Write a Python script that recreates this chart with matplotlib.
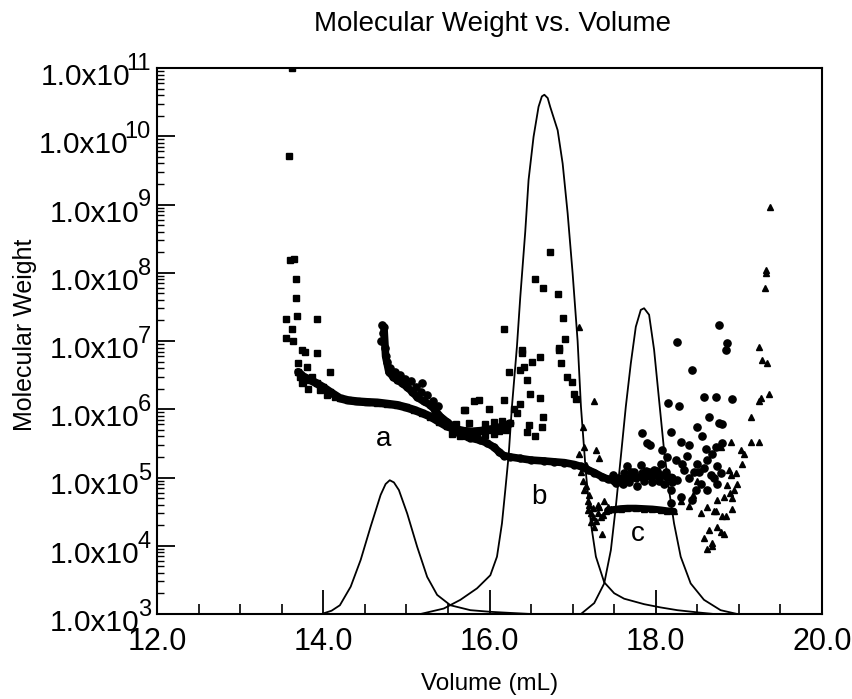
import numpy as np
import matplotlib
matplotlib.use('Agg')
import matplotlib.pyplot as plt
from matplotlib.ticker import FixedLocator, LogLocator, NullFormatter, MultipleLocator
from matplotlib.transforms import blended_transform_factory, offset_copy

plt.rcParams['font.family'] = ['Liberation Sans', 'DejaVu Sans']

# ---------------- data ----------------
x_ticks = [12.0, 14.0, 16.0, 18.0, 20.0]
x_tick_labels = ['12.0', '14.0', '16.0', '18.0', '20.0']
y_ticks = [1e3, 1e4, 1e5, 1e6, 1e7, 1e8, 1e9, 1e10, 1e11]
y_tick_base = '1.0x10'
y_tick_exps = ['3', '4', '5', '6', '7', '8', '9', '10', '11']

# chromatogram traces (relative detector signal, 0..1 of plot height)
peak_a_x = [13.98, 14.10, 14.20, 14.33, 14.45, 14.57, 14.69, 14.75, 14.80, 14.85,
            14.91, 15.01, 15.13, 15.25, 15.37, 15.53, 15.77, 16.01, 16.25, 16.50]
peak_a_h = [0.0, 0.006, 0.016, 0.05, 0.099, 0.16, 0.218, 0.238, 0.245, 0.241,
            0.227, 0.184, 0.123, 0.068, 0.035, 0.016, 0.007, 0.004, 0.002, 0.0]

peak_b_x = [15.17, 15.45, 15.65, 15.85, 16.01, 16.09, 16.15, 16.19, 16.23, 16.27,
            16.33, 16.37, 16.43, 16.47, 16.53, 16.59, 16.63, 16.66, 16.70, 16.73,
            16.82, 16.88, 16.94, 17.00, 17.06, 17.10, 17.16, 17.22, 17.28, 17.38,
            17.50, 17.62, 17.86, 18.06, 18.26, 18.50, 18.70]
peak_b_h = [0.0, 0.01, 0.026, 0.047, 0.071, 0.105, 0.166, 0.227, 0.29, 0.38,
            0.49, 0.58, 0.70, 0.795, 0.874, 0.929, 0.948, 0.951, 0.945, 0.929,
            0.886, 0.825, 0.734, 0.624, 0.50, 0.38, 0.258, 0.166, 0.105, 0.058,
            0.038, 0.028, 0.018, 0.012, 0.007, 0.003, 0.0]

peak_c_x = [17.10, 17.26, 17.38, 17.46, 17.52, 17.58, 17.64, 17.70, 17.76, 17.82,
            17.86, 17.92, 17.98, 18.04, 18.10, 18.16, 18.22, 18.30, 18.42, 18.58,
            18.78, 18.98]
peak_c_h = [0.0, 0.02, 0.056, 0.117, 0.197, 0.288, 0.38, 0.459, 0.526, 0.557,
            0.56, 0.548, 0.484, 0.392, 0.30, 0.227, 0.166, 0.105, 0.056, 0.026,
            0.007, 0.0]

# sample a (squares): dense band + scattered points
band_a_x = [13.70, 13.76, 13.84, 13.92, 14.00, 14.08, 14.20, 14.30, 14.41, 14.53,
            14.65, 14.77, 14.89, 14.99, 15.09, 15.19, 15.29, 15.39, 15.49, 15.59,
            15.69, 15.79, 15.89, 15.99, 16.09, 16.17, 16.25]
band_a_y = [3.5e6, 3.0e6, 2.7e6, 2.4e6, 2.1e6, 1.8e6, 1.45e6, 1.35e6, 1.3e6, 1.27e6,
            1.25e6, 1.2e6, 1.15e6, 1.07e6, 9.8e5, 8.8e5, 7.8e5, 6.6e5, 5.6e5, 5.1e5,
            4.8e5, 4.7e5, 4.8e5, 5.0e5, 5.3e5, 5.6e5, 6.2e5]
sq_x = [13.63, 13.59, 13.60, 13.65, 13.67, 13.67, 13.55, 13.68, 13.63, 13.93,
        13.55, 13.64, 13.74, 13.78, 13.92, 13.70, 13.80, 14.08, 13.72, 13.76,
        13.86, 15.69, 15.81, 15.71, 15.87, 15.99, 16.17, 16.23, 16.39, 16.37,
        16.42, 16.45, 16.51, 16.61, 16.61, 16.64, 16.47, 16.45, 16.55, 16.63,
        16.49, 16.84, 16.86, 16.93, 16.99, 17.02, 17.04, 16.73, 16.55, 16.64,
        16.83, 16.88, 16.17, 16.91, 16.84, 16.39, 16.33, 16.29, 16.37, 15.60,
        15.75, 15.95, 16.05, 16.15, 13.74, 13.82, 13.96, 14.04, 14.14, 15.55,
        15.65, 15.75, 15.85, 15.95, 16.05, 16.12, 16.20]
sq_y = [1e11, 5.1e9, 1.55e8, 1.6e8, 8e7, 4.3e7, 2.1e7, 2.3e7, 1.5e7, 2.1e7,
        1.1e7, 1.0e7, 7.4e6, 7.0e6, 6.6e6, 4.7e6, 4.2e6, 3.5e6, 3.0e6, 2.5e6,
        3.0e6, 9.8e5, 1.3e6, 9.8e5, 1.38e6, 1.0e6, 1.38e6, 3.5e6, 6.6e6, 3.8e6,
        4.2e6, 2.7e6, 5.0e6, 5.9e6, 1.45e6, 7.8e5, 5.9e5, 4.7e5, 4.0e5, 5.5e5,
        1.7e6, 7.4e6, 4.7e6, 3.0e6, 2.5e6, 1.7e6, 1.4e6, 2e8, 8e7, 6e7,
        4.9e7, 2.2e7, 1.5e7, 1.07e7, 7.8e6, 7.4e6, 8.7e5, 1.0e6, 1.2e6, 6.0e5,
        6.2e5, 6.0e5, 6.5e5, 6.8e5, 2.4e6, 2.0e6, 1.9e6, 1.6e6, 1.5e6, 4.4e5,
        4.0e5, 3.9e5, 4.0e5, 4.2e5, 4.4e5, 4.8e5, 5.0e5]

# sample b (circles)
band_b_x = [14.73, 14.75, 14.79, 14.84, 14.89, 14.95, 15.01, 15.07, 15.13, 15.21,
            15.29, 15.35, 15.41, 15.49, 15.57, 15.65, 15.77, 15.89, 15.97, 16.05,
            16.11, 16.17, 16.25, 16.37, 16.50, 16.65, 16.77, 16.90, 17.02, 17.10,
            17.18, 17.26, 17.35, 17.42, 17.50, 17.58, 17.66, 17.76, 17.86, 17.96,
            18.06, 18.14, 18.20]
band_b_y = [1.6e7, 6e6, 3.5e6, 3.0e6, 2.7e6, 2.4e6, 2.1e6, 1.8e6, 1.5e6, 1.3e6,
            1.15e6, 9.5e5, 7.8e5, 6.5e5, 5.5e5, 4.2e5, 3.8e5, 3.5e5, 3.2e5, 2.8e5,
            2.4e5, 2.1e5, 2.0e5, 1.9e5, 1.8e5, 1.75e5, 1.7e5, 1.65e5, 1.55e5, 1.45e5,
            1.3e5, 1.18e5, 1.03e5, 9.5e4, 9.0e4, 9.2e4, 9.5e4, 1.0e5, 1.02e5, 1.05e5,
            1.08e5, 1.02e5, 1.0e5]
ci_x = [14.71, 14.72, 14.70, 14.74, 14.77, 14.80, 14.86, 14.92, 14.98, 15.05,
        15.12, 15.18, 15.25, 15.32, 15.38, 15.19,
        18.26, 18.76, 18.86, 18.84, 18.44, 18.58, 18.72, 18.92, 18.15, 18.28,
        17.83, 17.90, 17.93, 18.18, 18.30, 18.40, 18.50, 18.64, 18.76, 18.80,
        18.56, 18.72, 18.80, 18.08, 18.14, 18.24, 18.38, 18.50, 18.62, 18.26,
        18.40, 18.54, 18.48, 18.62, 18.74, 18.78, 18.30, 18.18, 18.44, 18.74,
        18.18, 17.66, 17.82, 17.98, 18.06, 17.78, 17.60, 17.95, 18.10, 17.70,
        17.88, 18.00, 17.55, 18.34, 18.46, 18.58, 18.68, 18.70,
        17.48, 17.62, 17.74, 17.84, 17.92, 18.02, 18.12, 17.52, 17.68, 17.86,
        18.04, 18.20, 18.32, 18.52, 18.66, 18.60]
ci_y = [1.7e7, 1.3e7, 1.0e7, 8e6, 5e6, 4e6, 3.5e6, 3.2e6, 2.8e6, 2.6e6,
        2.1e6, 1.8e6, 1.6e6, 1.3e6, 1.1e6, 2.4e6,
        9.8e6, 1.7e7, 9.3e6, 7.4e6, 3.8e6, 1.5e6, 1.5e6, 1.4e6, 1.23e6, 1.12e6,
        4.5e5, 3.2e5, 3.0e5, 4.6e5, 3.3e5, 3.0e5, 5.5e5, 7.8e5, 6.2e5, 6.0e5,
        4.0e5, 2.8e5, 3.2e5, 2.5e5, 2.0e5, 1.8e5, 2.1e5, 1.6e5, 1.8e5, 9.1e4,
        1.0e5, 8.1e4, 6.6e4, 6.6e4, 1.45e5, 1.15e5, 5.2e4, 6.6e4, 4.7e4, 8.1e4,
        4.2e4, 1.45e5, 1.5e5, 1.3e5, 1.6e5, 7.4e4, 8e4, 8.5e4, 8e4, 1.2e5,
        1.25e5, 1.1e5, 1.0e5, 1.3e5, 1.2e5, 1.4e5, 2.2e5, 1.0e5,
        1.1e5, 1.15e5, 1.2e5, 1.18e5, 1.2e5, 1.25e5, 1.2e5, 8.2e4, 8.5e4, 8.8e4,
        9.0e4, 8.5e4, 1.6e5, 1.2e5, 1.1e5, 2.6e5]

# sample c (triangles)
band_c_x = [17.42, 17.50, 17.58, 17.66, 17.76, 17.86, 17.96, 18.06, 18.14, 18.22]
band_c_y = [3.3e4, 3.4e4, 3.5e4, 3.55e4, 3.55e4, 3.5e4, 3.45e4, 3.35e4, 3.25e4, 3.2e4]
tri_x = [17.08, 17.26, 17.12, 17.08, 17.14, 17.28, 17.32, 17.14, 17.18, 17.22,
         17.26, 17.35, 17.32, 17.38, 17.42, 17.18, 17.24, 17.20, 17.30, 17.36,
         18.62, 18.72, 18.64, 18.74, 18.82, 18.58, 18.68, 18.62, 18.68, 18.84,
         18.92, 18.94, 18.86, 18.98, 18.96, 19.04, 19.06, 19.02, 19.14, 19.24,
         19.14, 19.24, 19.27, 19.36, 19.24, 19.28, 19.34, 19.37, 19.33, 19.33,
         19.32, 18.90, 18.78, 18.74, 18.80, 18.70, 18.89, 18.82, 18.92, 18.78,
         18.90, 18.88, 18.30, 18.45, 18.55, 18.50, 18.40,
         17.10, 17.12, 17.16, 17.20, 17.22, 17.28, 17.34, 17.40, 17.46, 17.16,
         17.24, 17.30]
tri_y = [1.6e7, 1.3e6, 5.5e5, 2.2e5, 2.8e5, 2.5e5, 1.9e5, 6.6e4, 3.3e4, 2.2e4,
         1.9e4, 1.5e4, 3.7e4, 4.5e4, 3.7e4, 4.5e4, 2.6e4, 5.5e4, 3.0e4, 2.8e4,
         3.7e4, 3.2e4, 1.7e4, 1.9e4, 1.5e4, 1.3e4, 1.0e4, 9.1e3, 1.1e4, 2.7e4,
         3.5e4, 6.6e4, 7.8e4, 8.1e4, 1.15e5, 1.6e5, 2.2e5, 2.5e5, 3.3e5, 3.3e5,
         7.8e5, 1.3e6, 1.45e6, 1.7e6, 8.3e6, 5.2e6, 4.7e6, 9.3e8, 1.1e8, 1.0e8,
         5.9e7, 3.3e5, 2.8e5, 4.7e4, 2.7e4, 3.2e4, 5.9e4, 5.2e4, 5.0e4, 1.6e4,
         1.1e5, 1.3e5, 4.5e4, 5.5e4, 3.0e4, 9.0e4, 3.8e4,
         1.2e5, 9.0e4, 7.5e4, 4.0e4, 3.0e4, 2.3e4, 2.6e4, 3.2e4, 3.4e4, 1.5e5,
         3.6e4, 4.0e4]

labels_txt = ['a', 'b', 'c']
labels_x = [14.73, 16.59, 17.79]
labels_y = [3.7e5, 5.2e4, 1.5e4]

# ---------------- figure ----------------
W, H = 852, 699
fig = plt.figure(figsize=(W / 100, H / 100), dpi=100)
ax = fig.add_axes([157 / W, 85 / H, 665 / W, 546 / H])
ax.set_yscale('log')
ax.set_xlim(12, 20)
ax.set_ylim(1e3, 1e11)

ax2 = ax.twinx()
ax2.set_ylim(0, 1)
ax2.axis('off')
for px, ph in [(peak_a_x, peak_a_h), (peak_b_x, peak_b_h), (peak_c_x, peak_c_h)]:
    ax2.plot(px, ph, color='black', lw=1.3, solid_joinstyle='round')

# bands
ax.plot(band_a_x, band_a_y, color='black', lw=6, marker='s', ms=5,
        solid_capstyle='round', solid_joinstyle='round')
ax.plot(band_b_x, band_b_y, color='black', lw=5.5, marker='o', ms=5,
        solid_capstyle='round', solid_joinstyle='round')
ax.plot(band_c_x, band_c_y, color='black', lw=5, marker='^', ms=5,
        solid_capstyle='round', solid_joinstyle='round')
# scattered points
ax.plot(sq_x, sq_y, ls='none', marker='s', ms=4.8, color='black')
ax.plot(ci_x, ci_y, ls='none', marker='o', ms=5.2, color='black')
ax.plot(tri_x, tri_y, ls='none', marker='^', ms=4.3, color='black')

for t, tx, ty in zip(labels_txt, labels_x, labels_y):
    ax.text(tx, ty, t, fontsize=20, ha='center', va='center')

# axes styling
for s in ax.spines.values():
    s.set_linewidth(1.5)
ax.xaxis.set_major_locator(FixedLocator(x_ticks))
ax.set_xticklabels(x_tick_labels)
ax.xaxis.set_minor_locator(MultipleLocator(0.5))
ax.yaxis.set_major_locator(FixedLocator(y_ticks))
ax.yaxis.set_major_formatter(NullFormatter())
ax.yaxis.set_minor_locator(LogLocator(base=10, subs=np.arange(2, 10) * 1.0, numticks=100))
ax.yaxis.set_minor_formatter(NullFormatter())

ax.tick_params(which='both', direction='in', top=False, right=False)
ax.tick_params(axis='x', which='major', length=17, width=1.3, labelsize=22, pad=9)
ax.tick_params(axis='x', which='minor', length=7, width=1.2)
ax.tick_params(axis='y', which='major', length=13, width=1.3)
ax.tick_params(axis='y', which='minor', length=5, width=1.0)

# y tick labels with enlarged superscripts
trans = blended_transform_factory(ax.transAxes, ax.transData)
fig.canvas.draw()
renderer = fig.canvas.get_renderer()
for yt, e in zip(y_ticks, y_tick_exps):
    te = ax.text(0, yt, e, fontsize=17, ha='right', va='baseline',
                 transform=offset_copy(trans, fig=fig, x=-6, y=-2, units='dots'),
                 clip_on=False)
    bb = te.get_window_extent(renderer)
    xa = ax.transAxes.inverted().transform((bb.x0, 0))[0]
    shift = 3.5 if e.startswith('1') else 2
    ax.text(xa, yt, y_tick_base, fontsize=21.5, ha='right', va='baseline',
            transform=offset_copy(trans, fig=fig, x=shift, y=-17, units='dots'),
            clip_on=False)

fig.text(492 / W, 1 - 24 / H, 'Molecular Weight vs. Volume', fontsize=20,
         ha='center', va='center')
fig.text(490 / W, 1 - 684 / H, 'Volume (mL)', fontsize=17.5, ha='center', va='center')
fig.text(25 / W, 1 - 335 / H, 'Molecular Weight', fontsize=18, rotation=90,
         ha='center', va='center')

fig.savefig('out.png', dpi=100)
